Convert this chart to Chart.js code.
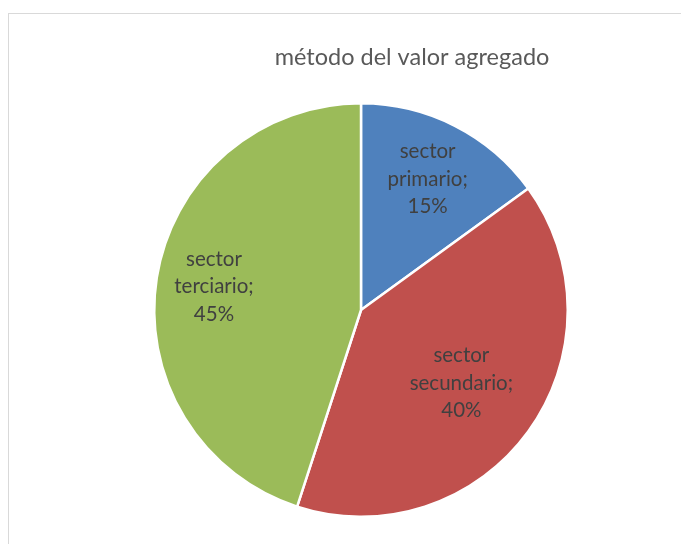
<!DOCTYPE html>
<html>
<head>
<meta charset="utf-8">
<script src="https://cdn.jsdelivr.net/npm/chart.js@4/dist/chart.umd.min.js"></script>
<style>
  html, body { margin: 0; padding: 0; background: #fff; }
  #wrap { width: 681px; height: 544px; position: relative; }
</style>
</head>
<body>
<div id="wrap"><canvas id="c" width="681" height="544"></canvas></div>
<script>
// Data
const chartTitle = 'método del valor agregado';
const categories = [['sector', 'primario;'], ['sector', 'secundario;'], ['sector', 'terciario;']];
const shares = [15, 40, 45];
const sliceColors = ['#4f81bd', '#c0504d', '#9bbb59'];

// Radial placement of each data label (fraction of the radius)
const labelRadius = [0.71, 0.60, 0.72];

const frameAndLabels = {
  id: 'frameAndLabels',
  beforeDraw(chart) {
    const ctx = chart.ctx;
    ctx.save();
    ctx.strokeStyle = '#d9d9d9';
    ctx.lineWidth = 1;
    ctx.strokeRect(8.5, 13.5, 700, 600);
    ctx.fillStyle = '#595959';
    ctx.font = '23.5px Lato';
    ctx.textAlign = 'center';
    ctx.textBaseline = 'middle';
    ctx.fillText(chartTitle, 412, 57);
    ctx.restore();
  },
  afterDatasetsDraw(chart) {
    const ctx = chart.ctx;
    const meta = chart.getDatasetMeta(0);
    const total = shares.reduce((a, b) => a + b, 0);
    ctx.save();
    ctx.fillStyle = '#404040';
    ctx.font = '20.5px Lato';
    ctx.textAlign = 'center';
    ctx.textBaseline = 'middle';
    meta.data.forEach((arc, i) => {
      const p = arc.getProps(['x', 'y', 'startAngle', 'endAngle', 'outerRadius'], true);
      const mid = (p.startAngle + p.endAngle) / 2;
      const r = p.outerRadius * labelRadius[i];
      const cx = p.x + Math.cos(mid) * r;
      const cy = p.y + Math.sin(mid) * r;
      const lines = categories[i].concat([Math.round(shares[i] / total * 100) + '%']);
      const lh = 27.5;
      lines.forEach((t, k) => {
        ctx.fillText(t, cx, cy + (k - (lines.length - 1) / 2) * lh);
      });
    });
    ctx.restore();
  }
};

new Chart(document.getElementById('c'), {
  type: 'pie',
  data: {
    labels: categories.map(c => c.join(' ')),
    datasets: [{
      data: shares,
      backgroundColor: sliceColors,
      borderColor: '#ffffff',
      borderWidth: 2.5
    }]
  },
  options: {
    responsive: false,
    animation: false,
    layout: { padding: { top: 102, bottom: 26, left: 153, right: 112 } },
    plugins: {
      legend: { display: false },
      tooltip: { enabled: false },
      title: { display: false }
    }
  },
  plugins: [frameAndLabels]
});
</script>
</body>
</html>
